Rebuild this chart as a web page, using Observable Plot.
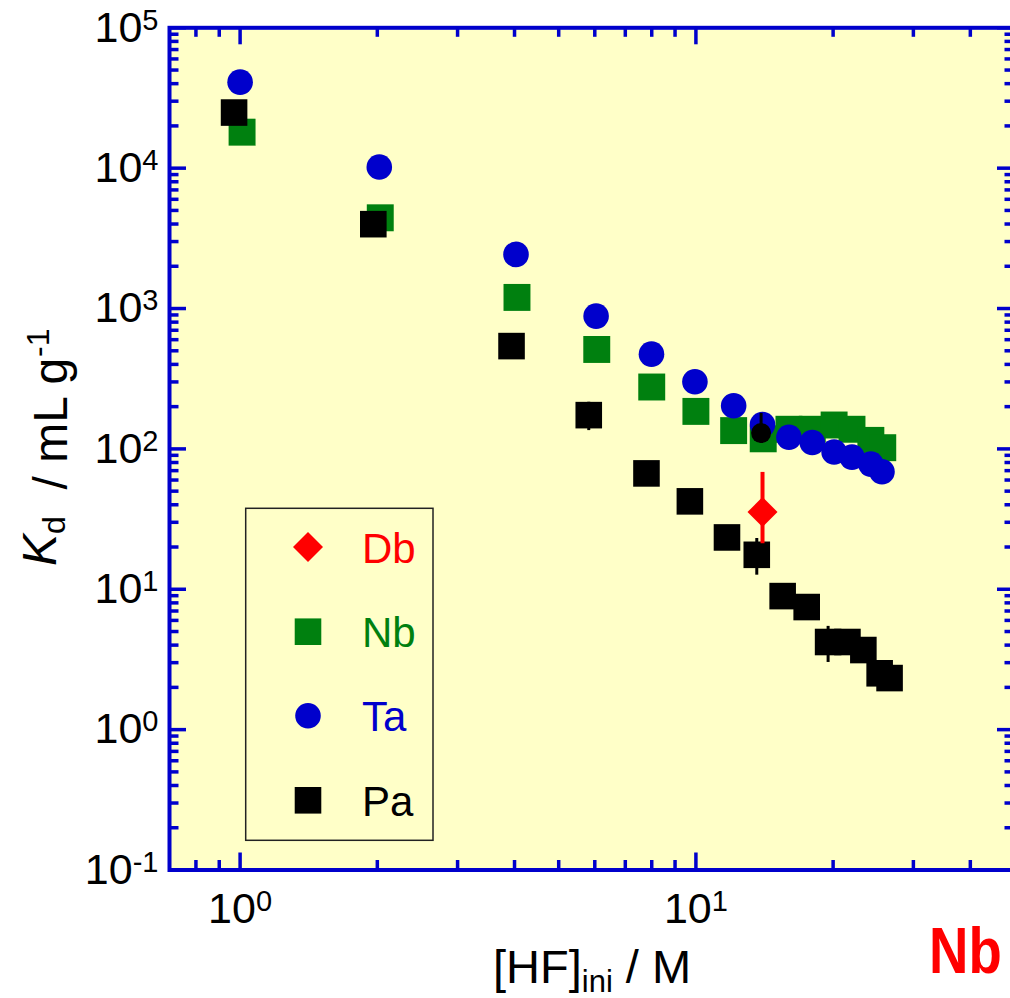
<!DOCTYPE html>
<html>
<head>
<meta charset="utf-8">
<script src="https://cdn.jsdelivr.net/npm/d3@7"></script>
<script src="https://cdn.jsdelivr.net/npm/@observablehq/plot@0.6"></script>
<style>
html, body { margin: 0; padding: 0; background: #ffffff; overflow: hidden; }
#chart { position: relative; width: 1010px; height: 998px; overflow: hidden; }
#chart svg { max-width: none !important; display: block; }
</style>
</head>
<body>
<div id="chart"></div>
<script>
// ---------- data ----------
const taHF = [1.0, 2.02, 4.03, 6.04, 7.99, 9.95, 12.1, 14.0, 16.0, 18.0, 20.1, 22.0, 24.2, 25.6];
const taKd = [41000, 10200, 2430, 883, 473, 301, 203, 149, 121, 111, 95, 87.4, 77.9, 68.8];

const nbHF = [1.01, 2.03, 4.05, 6.06, 8.0, 10.0, 12.1, 14.05, 16.0, 18.0, 20.1, 22.0, 24.2, 25.7];
const nbKd = [18050, 4430, 1200, 511, 276, 185, 135, 118, 138, 138, 148, 138, 115, 102];

const paHF = [0.97, 1.96, 3.94, 5.82, 7.79, 9.70, 11.7, 13.6, 15.5, 17.5, 19.5, 21.5, 23.3, 25.3, 26.6];
const paKd = [24900, 3990, 540, 174, 66.9, 42.3, 23.4, 17.6, 8.94, 7.47, 4.21, 4.21, 3.69, 2.52, 2.33];

const paErrHF = [5.82, 13.6, 19.5];
const paErrLo = [135, 12.6, 3.01];
const paErrHi = [215, 23.0, 5.44];

const dbHF = [14.0];
const dbKd = [35.5];
const dbErrLo = [21.1];
const dbErrHi = [68];

const extraHF = [13.9];
const extraKd = [129.6];
const extraErrLo = [109.5];
const extraErrHi = [179];

const legendNames = ["Db", "Nb", "Ta", "Pa"];

const xMajor = [1, 10];
const xTickLabels = ["10^0", "10^1"];
const xMinor = [0.8, 0.9, 2, 3, 4, 5, 6, 7, 8, 9, 20, 30, 40];
const yMajor = [0.1, 1, 10, 100, 1000, 10000, 100000];
const yTickLabels = ["10^-1", "10^0", "10^1", "10^2", "10^3", "10^4", "10^5"];
const yDecades = [0.1, 1, 10, 100, 1000, 10000];
const yMultipliers = [2, 3, 4, 5, 6, 7, 8, 9];
const yMinor = yDecades.flatMap(d => yMultipliers.map(m => +(d * m).toPrecision(6)));

// ---------- styling ----------
const BLUE = "#0000cc", GREEN = "#00800f", RED = "#ff0000", BLACK = "#000000";
const BG = "#ffffc8";
const W = 1020, H = 998, ML = 169, MR = 6, MT = 27.3, MB = 128.5;
const PW = W - ML - MR, PH = H - MT - MB;
const MAJ = 17, MIN = 9.5, TW = 3.5;

const rows = (xs, ys) => xs.map((x, i) => ({x, y: ys[i]}));
const errRows = (xs, lo, hi) => xs.map((x, i) => ({x, lo: lo[i], hi: hi[i]}));

const diamond = {
  draw(context, size) {
    const r = Math.sqrt(size / 2);
    context.moveTo(0, -r); context.lineTo(r, 0); context.lineTo(0, r); context.lineTo(-r, 0); context.closePath();
  }
};

const xLabelOf = new Map(xMajor.map((v, i) => [v, xTickLabels[i]]));
const yLabelOf = new Map(yMajor.map((v, i) => [v, yTickLabels[i]]));

const chart = Plot.plot({
  width: W, height: H,
  marginLeft: ML, marginRight: MR, marginTop: MT, marginBottom: MB,
  style: {background: "transparent", fontFamily: "'Liberation Sans', Arial, sans-serif", fontSize: "43px", color: "black", maxWidth: "none"},
  x: {type: "log", domain: [0.7, 50]},
  y: {type: "log", domain: [0.1, 100000]},
  marks: [
    Plot.frame({fill: BG, stroke: "none"}),
    // ticks (inward, all four sides)
    Plot.tickX(xMinor, {x: d => d, insetTop: PH - MIN, stroke: BLUE, strokeWidth: TW}),
    Plot.tickX(xMajor, {x: d => d, insetTop: PH - MAJ, stroke: BLUE, strokeWidth: TW}),
    Plot.tickX(xMinor, {x: d => d, insetBottom: PH - MIN, stroke: BLUE, strokeWidth: TW}),
    Plot.tickX(xMajor, {x: d => d, insetBottom: PH - MAJ, stroke: BLUE, strokeWidth: TW}),
    Plot.tickY(yMinor, {y: d => d, insetRight: PW - MIN, stroke: BLUE, strokeWidth: TW}),
    Plot.tickY(yMajor, {y: d => d, insetRight: PW - MAJ, stroke: BLUE, strokeWidth: TW}),
    Plot.tickY(yMinor, {y: d => d, insetLeft: PW - MIN, stroke: BLUE, strokeWidth: TW}),
    Plot.tickY(yMajor, {y: d => d, insetLeft: PW - MAJ, stroke: BLUE, strokeWidth: TW}),
    // data
    Plot.dot(rows(nbHF, nbKd), {x: "x", y: "y", symbol: "square", r: 15.2, fill: GREEN, stroke: "none"}),
    Plot.dot(rows(taHF, taKd), {x: "x", y: "y", symbol: "circle", r: 12.8, fill: BLUE, stroke: "none"}),
    Plot.ruleX(errRows(paErrHF, paErrLo, paErrHi), {x: "x", y1: "lo", y2: "hi", stroke: BLACK, strokeWidth: 3}),
    Plot.dot(rows(paHF, paKd), {x: "x", y: "y", symbol: "square", r: 15.0, fill: BLACK, stroke: "none"}),
    Plot.ruleX(errRows(extraHF, extraErrLo, extraErrHi), {x: "x", y1: "lo", y2: "hi", stroke: BLACK, strokeWidth: 3}),
    Plot.dot(rows(extraHF, extraKd), {x: "x", y: "y", symbol: "circle", r: 10, fill: BLACK, stroke: "none"}),
    Plot.ruleX(errRows(dbHF, dbErrLo, dbErrHi), {x: "x", y1: "lo", y2: "hi", stroke: RED, strokeWidth: 4}),
    Plot.dot(rows(dbHF, dbKd), {x: "x", y: "y", symbol: diamond, r: 11.97, fill: RED, stroke: "none"}),
    // axes (labels only)
    Plot.axisX(xMajor, {tickSize: 0, tickPadding: 22.3, label: null, fontSize: 43, tickFormat: d => xLabelOf.get(d)}),
    Plot.axisY(yMajor, {tickSize: 0, tickPadding: 11, label: null, fontSize: 43, tickFormat: d => yLabelOf.get(d)}),
    Plot.frame({stroke: BLUE, strokeWidth: 4, fill: "none"})
  ]
});

document.getElementById("chart").appendChild(chart);

const NS = "http://www.w3.org/2000/svg";
// superscript exponents on tick labels
chart.querySelectorAll('[aria-label="x-axis tick label"] text, [aria-label="y-axis tick label"] text').forEach(t => {
  const s = t.textContent;
  if (!s.includes("^")) return;
  const [base, exp] = s.split("^");
  t.textContent = base;
  const ts = document.createElementNS(NS, "tspan");
  ts.setAttribute("dy", "-12");
  ts.setAttribute("font-size", "29");
  ts.textContent = exp;
  t.appendChild(ts);
});

const svg = d3.select(chart);
const FONT = "'Liberation Sans', Arial, sans-serif";

// y-axis title
const yt = svg.append("text")
  .attr("transform", "translate(56,566) rotate(-90)")
  .attr("text-anchor", "start")
  .attr("font-family", FONT).attr("font-size", 48).attr("fill", "black");
yt.append("tspan").attr("font-style", "italic").text("K");
yt.append("tspan").attr("font-size", 32).attr("dy", 9).text("d");
yt.append("tspan").attr("dy", 2).text("\u00a0 / mL g");
yt.append("tspan").attr("font-size", 32).attr("dy", -18).attr("dx", 1).text("-1");

// x-axis title
const xt = svg.append("text")
  .attr("x", 493).attr("y", 983)
  .attr("text-anchor", "start")
  .attr("font-family", FONT).attr("font-size", 47).attr("fill", "black");
xt.append("tspan").text("[HF]");
xt.append("tspan").attr("font-size", 31).attr("dy", 9).text("ini");
xt.append("tspan").attr("dy", -9).text(" / M");

// corner label
svg.append("text")
  .attr("transform", "translate(929,973) scale(0.84,1)")
  .attr("text-anchor", "start")
  .attr("font-family", FONT)
  .attr("font-weight", "bold").attr("font-size", 65).attr("fill", RED)
  .text("Nb");

// legend
const lg = svg.append("g");
lg.append("rect").attr("x", 245.7).attr("y", 508.3).attr("width", 187.3).attr("height", 332)
  .attr("fill", "none").attr("stroke", "#222").attr("stroke-width", 1.5);
const legendColors = [RED, GREEN, BLUE, BLACK];
const legendSymbols = [diamond, d3.symbolSquare, d3.symbolCircle, d3.symbolSquare];
const legendSizes = [Math.PI * 11.97 * 11.97, Math.PI * 15.0 * 15.0, Math.PI * 12.8 * 12.8, Math.PI * 15.0 * 15.0];
const legendY = [547, 631.7, 715.7, 800.3];
legendNames.forEach((name, i) => {
  lg.append("path")
    .attr("transform", `translate(308,${legendY[i]})`)
    .attr("d", d3.symbol(legendSymbols[i], legendSizes[i])())
    .attr("fill", legendColors[i]);
  lg.append("text")
    .attr("x", 362).attr("y", legendY[i]).attr("dy", "0.37em")
    .attr("text-anchor", "start")
    .attr("font-family", FONT).attr("font-size", 42).attr("fill", legendColors[i])
    .text(name);
});
</script>
</body>
</html>
